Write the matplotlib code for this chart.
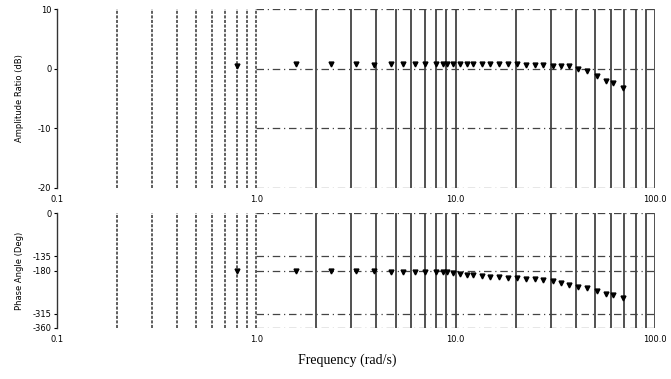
import numpy as np
import matplotlib
matplotlib.use("Agg")
import matplotlib.pyplot as plt

# frequency points (rad/s)
freq = [0.8, 1.58, 2.38, 3.15, 3.9, 4.74, 5.43, 6.25, 7.06, 7.93, 8.6, 9.1,
        9.7, 10.5, 11.4, 12.2, 13.5, 14.9, 16.5, 18.3, 20.4, 22.6, 25.0, 27.5,
        30.7, 33.7, 37.2, 41.1, 45.5, 51.0, 56.6, 61.8, 69.4]
amp_db = [0.5, 0.85, 0.85, 0.8, 0.7, 0.85, 0.85, 0.85, 0.85, 0.75, 0.8, 0.85,
          0.8, 0.8, 0.8, 0.8, 0.8, 0.8, 0.8, 0.75, 0.75, 0.7, 0.65, 0.6,
          0.5, 0.5, 0.4, 0.0, -0.4, -1.2, -2.0, -2.4, -3.2]
phase_deg = [-180, -181, -181, -182, -182, -184, -184, -184, -184, -184, -184, -186,
             -189, -192, -193, -195, -197, -199, -201, -203, -203, -205, -208, -210,
             -213, -218, -224, -231, -236, -245, -252, -257, -266]

x_ticks = [0.1, 1.0, 10.0, 100.0]
x_ticklabels = ["0.1", "1.0", "10.0", "100.0"]
amp_ticks = [10, 0, -10, -20]
amp_ticklabels = ["10", "0", "-10", "-20"]
phase_ticks = [0, -135, -180, -315, -360]
phase_ticklabels = ["0", "-135", "-180", "-315", "-360"]


def style_axis(ax, ylim, yticks, yticklabels):
    ax.set_xscale("log")
    ax.set_xlim(0.1, 100)
    ax.set_ylim(ylim)
    for s in ["top", "bottom", "right"]:
        ax.spines[s].set_visible(False)
    ax.spines["left"].set_linestyle((0, (1, 1)))
    ax.spines["left"].set_linewidth(1.0)
    ax.spines["left"].set_color("#333333")

    # vertical grid: dashed in first decade, solid afterwards
    first = [0.2, 0.3, 0.4, 0.5, 0.6, 0.7, 0.8, 0.9, 1.0]
    rest = [m * d for d in (1, 10) for m in range(2, 10)] + [10, 100]
    ax.vlines(first, ylim[0], ylim[1], colors="#333333", linewidth=1.1,
              linestyles=(0, (2, 1)))
    ax.vlines(rest, ylim[0], ylim[1], colors="#222222", linewidth=1.1)

    # horizontal dash-dot lines from 1.0 to 100
    ax.hlines(yticks, 1.0, 100, colors="#444444", linewidth=0.9,
              linestyles=(0, (6, 3, 1, 3)))

    ax.set_xticks(x_ticks)
    ax.set_xticklabels(x_ticklabels, fontsize=6)
    ax.set_xticks([], minor=True)
    ax.set_yticks(yticks)
    ax.set_yticklabels(yticklabels, fontsize=6)
    ax.tick_params(axis="x", length=0, pad=5)
    ax.tick_params(axis="y", length=2, width=0.8, pad=2)


fig = plt.figure(figsize=(6.71, 3.79), dpi=100)
ax1 = fig.add_axes([0.085, 0.504, 0.891, 0.472])
ax2 = fig.add_axes([0.085, 0.1346, 0.891, 0.303])

style_axis(ax1, (-20, 10), amp_ticks, amp_ticklabels)
style_axis(ax2, (-360, 0), phase_ticks, phase_ticklabels)

ax1.plot(freq, amp_db, linestyle="none", marker="v", markersize=3.5,
         color="black")
ax2.plot(freq, phase_deg, linestyle="none", marker="v", markersize=3.5,
         color="black")

ax1.set_ylabel("Amplitude Ratio (dB)", fontsize=6, labelpad=10)
ax2.set_ylabel("Phase Angle (Deg)", fontsize=6, labelpad=6)

fig.text(0.517, 0.05, "Frequency (rad/s)", fontsize=10,
         family="Liberation Serif", ha="center", va="center")

fig.savefig("out.png", dpi=100)
